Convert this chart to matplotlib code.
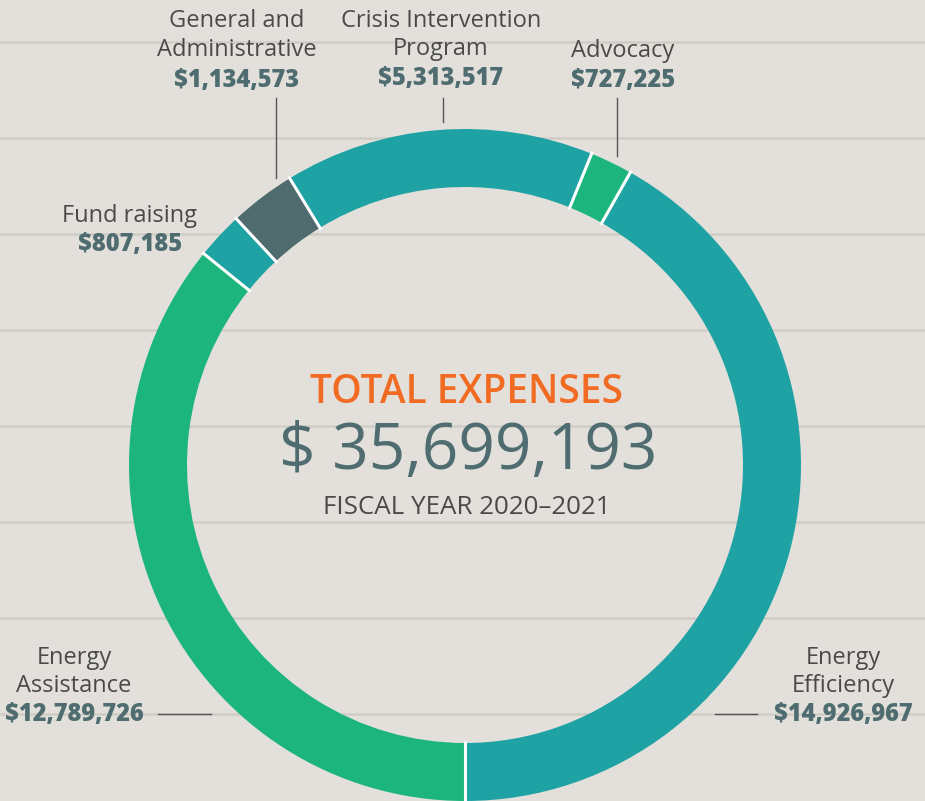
import matplotlib
matplotlib.use("Agg")
import matplotlib.pyplot as plt
import numpy as np

categories = ["Energy Efficiency", "Advocacy", "Crisis Intervention Program",
              "General and Administrative", "Fund raising", "Energy Assistance"]
values = [14926967, 727225, 5313517, 1134573, 807185, 12789726]
colors = ["#1ea2a3", "#1db57e", "#1ea2a3", "#4f6b6d", "#1ea2a3", "#1db57e"]
total_label = "$ 35,699,193"
year_label = "FISCAL YEAR 2020\u20132021"

BG = "#e3e0db"
VAL = "#4f6d70"
TXT = "#4a4a4a"
W, H = 925, 801

fig = plt.figure(figsize=(W / 100, H / 100), dpi=100, facecolor=BG)
ax = fig.add_axes([0, 0, 1, 1])
ax.set_facecolor(BG)

def Y(p):
    return H - p

for yp in [42, 138, 234, 330, 426, 522, 618, 714]:
    ax.axhline(Y(yp), color="#d0cdc7", lw=1.8, zorder=0)

cx, cy, R, RW = 465, Y(465), 336, 58
wedges, _ = ax.pie(values, colors=colors, startangle=270, counterclock=True,
                   center=(cx, cy), radius=R, frame=True,
                   wedgeprops=dict(width=RW, linewidth=0))
for w in wedges:
    a = np.deg2rad(w.theta1)
    ax.plot([cx + (R - RW - 2) * np.cos(a), cx + (R + 2) * np.cos(a)],
            [cy + (R - RW - 2) * np.sin(a), cy + (R + 2) * np.sin(a)],
            color="white", lw=2.2, solid_capstyle="butt", zorder=5)
ax.set_xlim(0, W)
ax.set_ylim(0, H)
ax.set_aspect("equal")
ax.axis("off")

fam = ["Open Sans", "DejaVu Sans"]
ax.text(467, Y(393), "TOTAL EXPENSES", color="#f26b22", fontsize=28,
        ha="center", va="center", family=fam, fontweight="semibold")
ax.text(468, Y(452), total_label, color=VAL, fontsize=46,
        ha="center", va="center", family=fam)
ax.text(467, Y(507), year_label, color=TXT, fontsize=18.7,
        ha="center", va="center", family=fam)

def label(x, ys, lines, value, fs=17):
    for yy, t in zip(ys[:-1], lines):
        ax.text(x, Y(yy), t, color=TXT, fontsize=fs, ha="center",
                va="center", family=fam)
    ax.text(x, Y(ys[-1]), value, color=VAL, fontsize=fs, ha="center",
            va="center", family=fam, fontweight=800)

def money(v):
    return "${:,}".format(v)

label(237, [21, 50, 80], ["General and", "Administrative"], money(values[3]))
label(441, [21, 49, 79], ["Crisis Intervention", "Program"], money(values[2]))
label(623, [51, 80], ["Advocacy"], money(values[1]))
label(130, [216, 244], ["Fund raising"], money(values[4]))
label(74, [658, 686, 714], ["Energy", "Assistance"], money(values[5]))
label(843, [658, 686, 714], ["Energy", "Efficiency"], money(values[0]))

lc = "#555555"
ax.plot([276, 276], [Y(98), Y(178)], color=lc, lw=1)
ax.plot([443, 443], [Y(98), Y(122)], color=lc, lw=1)
ax.plot([617, 617], [Y(98), Y(156)], color=lc, lw=1)
ax.plot([158, 211], [Y(714), Y(714)], color=lc, lw=1)
ax.plot([715, 757], [Y(714), Y(714)], color=lc, lw=1)

fig.savefig("out.png", dpi=100, facecolor=BG)
